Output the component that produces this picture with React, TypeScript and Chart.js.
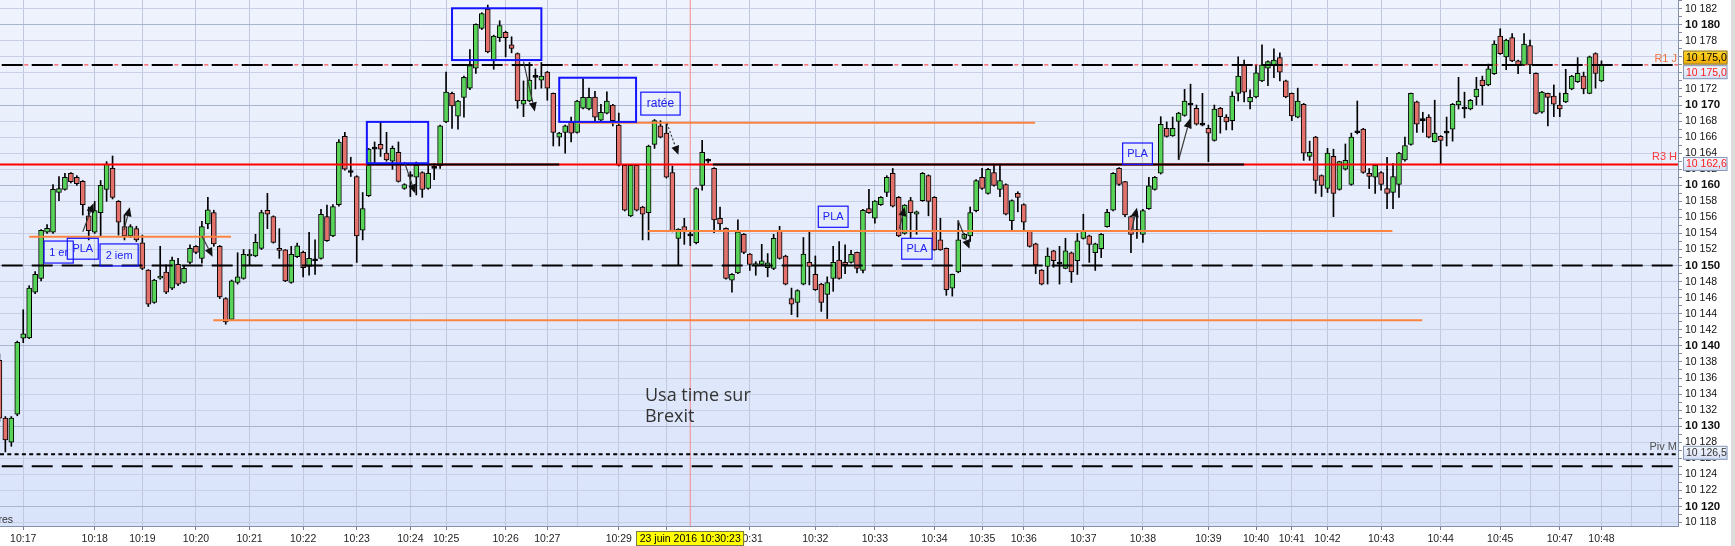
import { useEffect, useRef } from 'react';
import { Chart, registerables } from 'chart.js';

Chart.register(...registerables);

const FONT = '"Liberation Sans", Arial, sans-serif';

// ---- candle data (one candle per tick bar) ----
const openP = [
  10138.2, 10131.0, 10128.0, 10131.5, 10140.95, 10141.0, 10146.7, 10148.4, 10154.15, 10154.15,
  10159.1, 10159.5, 10161.5, 10161.0, 10160.5, 10156.2, 10154.15, 10156.6, 10159.5, 10162.1,
  10158.0, 10154.85, 10153.7, 10154.6, 10152.85, 10149.45, 10145.4, 10148.45, 10149.2, 10147.2,
  10150.15, 10147.9, 10150.4, 10152.4, 10150.9, 10155.2, 10156.6, 10152.4, 10145.9, 10143.3,
  10147.9, 10148.4, 10151.2, 10151.2, 10152.15, 10156.9, 10156.1, 10152.15, 10151.95, 10147.9,
  10151.1, 10151.65, 10149.9, 10150.6, 10150.9, 10156.1, 10153.7, 10157.6, 10166.1, 10161.6,
  10161.1, 10154.4, 10158.7, 10164.5, 10165.1, 10164.0, 10163.0, 10164.1, 10159.6, 10161.1,
  10161.0, 10161.6, 10159.6, 10162.1, 10162.45, 10167.9, 10171.45, 10168.6, 10170.95, 10172.1,
  10174.6, 10179.55, 10181.95, 10175.5, 10178.4, 10179.05, 10177.5, 10176.4, 10170.1, 10170.5,
  10173.45, 10173.1, 10174.1, 10171.45, 10166.0, 10166.6, 10167.85, 10166.6, 10169.6, 10169.5,
  10171.0, 10168.1, 10169.0, 10170.0, 10167.5, 10162.5, 10156.2, 10162.5, 10157.3, 10156.6,
  10165.1, 10167.4, 10166.5, 10161.6, 10153.4, 10154.85, 10153.7, 10152.85, 10160.0, 10163.0,
  10162.1, 10155.9, 10154.65, 10148.2, 10149.1, 10153.9, 10151.45, 10150.0, 10150.15, 10149.75,
  10149.65, 10154.3, 10151.2, 10145.9, 10145.4, 10147.7, 10150.4, 10148.9, 10147.7, 10146.4,
  10148.4, 10150.7, 10150.4, 10150.4, 10151.65, 10149.4, 10157.1, 10155.9, 10157.6, 10159.1,
  10161.5, 10158.5, 10154.0, 10158.1, 10156.4, 10158.1, 10161.2, 10158.5, 10153.2, 10152.15,
  10147.2, 10149.2, 10153.4, 10153.7, 10156.85, 10161.0, 10159.0, 10161.6, 10159.5, 10160.1,
  10155.6, 10159.0, 10157.6, 10154.3, 10152.7, 10149.45, 10149.9, 10151.85, 10150.2, 10149.65,
  10151.6, 10150.6, 10153.4, 10153.7, 10151.6, 10152.1, 10154.85, 10156.9, 10162.1, 10160.45,
  10156.1, 10154.2, 10153.9, 10157.1, 10159.5, 10161.5, 10167.1, 10166.15, 10167.95, 10168.7,
  10170.0, 10169.6, 10167.5, 10167.1, 10165.6, 10169.6, 10168.5, 10168.05, 10171.45, 10175.0,
  10170.4, 10171.0, 10173.0, 10174.6, 10175.0, 10175.9, 10173.0, 10171.45, 10168.5, 10170.1,
  10163.6, 10166.0, 10161.2, 10159.6, 10163.6, 10159.5, 10162.0, 10160.1, 10166.55, 10167.0,
  10161.5, 10161.0, 10161.6, 10159.6, 10159.1, 10160.1, 10163.15, 10165.1, 10170.4, 10168.05,
  10168.5, 10165.45, 10166.1, 10166.5, 10167.0, 10170.0, 10169.5, 10169.5, 10171.0, 10173.1,
  10172.5, 10173.9, 10178.6, 10176.0, 10178.4, 10175.5, 10175.0, 10177.4, 10173.95, 10169.1,
  10171.45, 10171.1, 10170.0, 10170.4, 10172.0, 10172.9, 10173.6, 10171.45, 10176.4, 10173.0,
];
const highP = [
  10139.0, 10131.2, 10131.2, 10140.6, 10144.5, 10147.5, 10149.25, 10154.5, 10155.1, 10160.1,
  10161.1, 10161.5, 10161.6, 10161.2, 10160.6, 10157.3, 10158.0, 10160.6, 10162.95, 10163.65,
  10158.1, 10156.3, 10155.1, 10154.9, 10153.8, 10149.5, 10148.3, 10152.4, 10150.1, 10151.05,
  10150.9, 10150.0, 10152.6, 10152.5, 10155.5, 10158.5, 10156.9, 10152.5, 10146.0, 10148.2,
  10151.6, 10152.0, 10152.0, 10153.9, 10156.9, 10159.0, 10156.2, 10154.6, 10152.0, 10152.4,
  10152.8, 10151.8, 10154.15, 10153.2, 10157.0, 10157.55, 10157.6, 10165.7, 10166.6, 10163.5,
  10161.2, 10159.1, 10164.6, 10165.4, 10167.85, 10166.6, 10164.9, 10165.4, 10160.2, 10161.7,
  10162.9, 10161.7, 10162.7, 10162.7, 10167.5, 10174.1, 10171.6, 10170.6, 10173.6, 10176.9,
  10180.1, 10181.5, 10182.45, 10178.7, 10180.5, 10179.2, 10178.5, 10176.5, 10173.0, 10175.3,
  10174.5, 10175.3, 10174.2, 10171.5, 10166.6, 10167.5, 10168.5, 10170.6, 10173.25, 10172.1,
  10171.7, 10170.1, 10171.65, 10170.1, 10169.0, 10162.6, 10162.6, 10162.6, 10157.4, 10165.0,
  10168.2, 10168.05, 10167.7, 10162.4, 10154.6, 10155.9, 10154.4, 10159.7, 10165.6, 10163.3,
  10162.2, 10157.3, 10154.7, 10149.0, 10155.7, 10154.0, 10151.5, 10150.5, 10152.65, 10151.5,
  10153.9, 10154.9, 10151.3, 10147.2, 10147.0, 10153.5, 10154.2, 10151.2, 10147.8, 10148.6,
  10152.4, 10153.0, 10152.6, 10151.9, 10151.7, 10157.0, 10159.5, 10158.1, 10158.6, 10161.2,
  10162.1, 10158.6, 10157.6, 10158.5, 10156.8, 10161.6, 10161.3, 10158.6, 10155.9, 10152.2,
  10148.95, 10155.6, 10154.0, 10157.3, 10160.7, 10162.1, 10162.1, 10162.5, 10162.5, 10160.2,
  10158.2, 10159.2, 10157.7, 10154.4, 10152.8, 10149.5, 10152.2, 10151.9, 10152.4, 10153.4,
  10151.7, 10154.0, 10156.4, 10153.8, 10152.8, 10154.0, 10157.0, 10161.6, 10162.2, 10160.5,
  10156.2, 10156.7, 10157.0, 10161.0, 10161.1, 10168.55, 10167.9, 10168.5, 10169.1, 10171.95,
  10172.6, 10170.0, 10171.45, 10167.5, 10170.0, 10169.7, 10168.8, 10171.66, 10176.0, 10175.6,
  10171.9, 10175.0, 10177.5, 10175.5, 10177.0, 10176.5, 10173.1, 10171.5, 10172.1, 10170.2,
  10165.5, 10166.1, 10161.3, 10164.6, 10164.5, 10163.0, 10165.15, 10166.5, 10170.5, 10167.1,
  10162.1, 10162.6, 10161.7, 10163.5, 10162.7, 10164.1, 10166.0, 10171.5, 10170.5, 10169.1,
  10168.8, 10170.6, 10166.2, 10168.5, 10170.2, 10173.45, 10171.6, 10170.7, 10173.45, 10173.6,
  10175.1, 10178.0, 10179.5, 10178.2, 10178.9, 10175.6, 10178.9, 10178.1, 10174.0, 10171.7,
  10171.5, 10172.5, 10171.5, 10174.45, 10173.7, 10175.9, 10174.1, 10176.1, 10176.5, 10175.5,
];
const lowP = [
  10130.6, 10126.8, 10127.5, 10131.3, 10140.4, 10140.9, 10146.5, 10148.1, 10154.0, 10154.0,
  10158.1, 10159.4, 10160.3, 10160.0, 10156.3, 10153.2, 10154.0, 10153.7, 10158.0, 10158.3,
  10153.8, 10153.2, 10153.5, 10153.0, 10149.5, 10144.9, 10145.3, 10148.3, 10146.5, 10147.0,
  10147.5, 10147.8, 10150.2, 10151.5, 10150.3, 10154.6, 10152.4, 10145.9, 10142.7, 10143.2,
  10147.7, 10148.3, 10150.0, 10151.1, 10152.0, 10154.6, 10152.8, 10150.9, 10148.0, 10147.8,
  10151.0, 10148.6, 10148.8, 10148.9, 10150.8, 10153.0, 10153.6, 10157.4, 10161.9, 10161.1,
  10150.4, 10153.2, 10158.6, 10162.7, 10163.6, 10163.0, 10162.0, 10160.4, 10159.5, 10158.6,
  10158.8, 10158.5, 10159.5, 10160.7, 10162.1, 10167.8, 10167.1, 10167.0, 10168.5, 10171.9,
  10173.95, 10179.4, 10176.5, 10174.45, 10177.9, 10176.0, 10176.5, 10169.6, 10168.55, 10170.4,
  10172.0, 10172.1, 10170.6, 10164.9, 10164.9, 10164.0, 10165.4, 10166.5, 10169.5, 10169.4,
  10167.9, 10168.0, 10168.9, 10167.4, 10162.4, 10156.8, 10156.1, 10156.8, 10153.2, 10153.2,
  10164.6, 10165.9, 10160.9, 10154.2, 10150.0, 10152.65, 10152.5, 10152.7, 10159.4, 10162.8,
  10154.1, 10154.4, 10148.3, 10146.7, 10149.0, 10151.5, 10149.4, 10148.8, 10150.1, 10148.6,
  10149.5, 10150.8, 10147.6, 10143.9, 10143.6, 10147.6, 10147.6, 10146.9, 10144.3, 10143.4,
  10146.8, 10148.3, 10149.0, 10150.3, 10149.1, 10149.1, 10156.5, 10155.3, 10157.5, 10158.6,
  10157.3, 10153.6, 10153.9, 10153.5, 10153.9, 10158.0, 10156.2, 10151.9, 10151.9, 10146.3,
  10146.2, 10149.1, 10153.3, 10153.0, 10156.7, 10159.5, 10158.9, 10159.9, 10158.6, 10156.3,
  10154.4, 10156.7, 10154.4, 10152.3, 10149.0, 10147.6, 10147.7, 10149.8, 10147.7, 10149.6,
  10147.9, 10148.9, 10153.3, 10150.4, 10149.4, 10151.0, 10154.8, 10156.8, 10160.0, 10156.1,
  10151.6, 10153.4, 10152.9, 10157.0, 10159.4, 10161.4, 10166.0, 10166.1, 10163.2, 10168.6,
  10167.1, 10167.5, 10167.4, 10162.95, 10165.5, 10166.5, 10166.9, 10166.9, 10170.5, 10170.4,
  10169.5, 10170.9, 10172.9, 10172.4, 10173.4, 10173.0, 10170.9, 10168.05, 10168.4, 10163.1,
  10163.1, 10159.0, 10158.6, 10159.1, 10156.1, 10159.4, 10161.9, 10160.0, 10166.4, 10161.5,
  10159.6, 10159.0, 10159.4, 10157.1, 10157.1, 10158.5, 10163.0, 10165.0, 10166.6, 10166.6,
  10165.9, 10165.4, 10162.7, 10164.9, 10165.5, 10169.5, 10168.4, 10169.4, 10170.0, 10170.0,
  10172.4, 10173.8, 10176.3, 10174.4, 10175.4, 10173.9, 10174.9, 10173.9, 10168.9, 10169.0,
  10167.4, 10168.55, 10168.55, 10170.3, 10171.9, 10172.8, 10171.4, 10171.4, 10172.1, 10172.9,
];
const closeP = [
  10131.0, 10128.3, 10131.0, 10140.45, 10141.5, 10147.2, 10148.9, 10154.4, 10154.65, 10159.5,
  10159.6, 10161.0, 10160.45, 10160.2, 10157.6, 10154.35, 10156.85, 10160.0, 10162.66, 10158.5,
  10155.4, 10153.7, 10154.85, 10153.2, 10149.65, 10145.2, 10148.2, 10148.7, 10146.7, 10150.7,
  10147.7, 10149.65, 10152.15, 10151.65, 10154.85, 10156.95, 10152.7, 10146.1, 10143.0, 10148.1,
  10148.6, 10151.4, 10151.4, 10152.9, 10156.6, 10156.4, 10152.9, 10151.9, 10148.1, 10151.4,
  10152.45, 10149.75, 10150.9, 10150.6, 10156.4, 10153.1, 10157.35, 10165.4, 10162.0, 10161.6,
  10153.7, 10157.1, 10164.5, 10164.5, 10164.5, 10163.15, 10164.6, 10160.5, 10160.1, 10161.1,
  10162.5, 10159.5, 10161.5, 10162.1, 10167.4, 10171.6, 10169.9, 10170.5, 10173.45, 10174.9,
  10180.05, 10181.4, 10176.6, 10178.6, 10179.9, 10178.4, 10177.05, 10170.5, 10170.6, 10173.1,
  10173.45, 10173.6, 10172.1, 10166.6, 10166.5, 10167.4, 10166.5, 10170.5, 10170.95, 10170.95,
  10168.5, 10169.1, 10170.5, 10168.05, 10162.5, 10156.9, 10162.5, 10156.9, 10156.4, 10164.9,
  10168.05, 10166.0, 10161.0, 10154.3, 10154.55, 10154.2, 10153.7, 10159.6, 10164.1, 10163.0,
  10155.7, 10155.2, 10148.4, 10148.9, 10154.2, 10151.65, 10150.15, 10150.2, 10150.6, 10150.35,
  10153.4, 10150.9, 10147.7, 10145.2, 10146.9, 10151.45, 10149.9, 10147.0, 10145.4, 10147.9,
  10150.4, 10148.4, 10150.1, 10151.4, 10149.65, 10156.9, 10156.6, 10158.05, 10158.5, 10161.0,
  10157.4, 10153.7, 10157.55, 10156.6, 10156.7, 10161.5, 10158.0, 10151.95, 10151.95, 10147.0,
  10148.9, 10153.2, 10153.9, 10156.6, 10160.6, 10159.6, 10162.0, 10160.0, 10160.6, 10156.4,
  10158.1, 10158.5, 10155.4, 10152.4, 10150.1, 10147.7, 10151.2, 10150.6, 10150.2, 10151.85,
  10149.2, 10153.1, 10154.3, 10152.65, 10152.7, 10153.9, 10156.65, 10161.5, 10160.1, 10156.3,
  10153.9, 10154.5, 10156.85, 10159.95, 10161.0, 10167.6, 10166.1, 10167.1, 10169.0, 10170.5,
  10170.0, 10167.6, 10167.5, 10166.5, 10169.5, 10168.55, 10167.9, 10171.1, 10173.6, 10171.6,
  10170.95, 10174.0, 10175.0, 10175.4, 10175.6, 10174.1, 10171.0, 10168.65, 10170.5, 10164.0,
  10164.1, 10160.6, 10160.0, 10164.0, 10159.0, 10162.95, 10163.1, 10166.0, 10166.55, 10161.6,
  10161.1, 10162.5, 10160.1, 10159.0, 10161.1, 10164.0, 10164.95, 10171.45, 10167.6, 10168.05,
  10166.0, 10166.5, 10165.6, 10166.5, 10170.1, 10170.5, 10169.5, 10170.6, 10172.0, 10172.4,
  10174.5, 10177.6, 10176.4, 10178.1, 10175.5, 10175.0, 10177.6, 10175.0, 10168.95, 10171.6,
  10170.95, 10170.1, 10169.5, 10171.45, 10173.6, 10173.95, 10172.0, 10176.0, 10173.95, 10175.0,
];

// ---- time axis (tick positions in candle index units) ----
const timeTickIdx = [4, 16, 24, 33, 42, 51, 60, 69, 75, 85, 92, 97, 104, 112, 126, 137, 147, 157, 165, 172,
  182, 192, 203, 211, 217, 223, 232, 242, 252, 257, 262, 269, 274, 279];
const timeTickLabels = ['10:17', '10:18', '10:19', '10:20', '10:21', '10:22', '10:23', '10:24', '10:25', '10:26',
  '10:27', '', '10:29', '10:30', '10:31', '10:32', '10:33', '10:34', '10:35', '10:36',
  '10:37', '10:38', '10:39', '10:40', '10:41', '10:42', '10:43', '10:44', '10:45', '',
  '10:47', '10:48', '', ''];

const xMin = 0.1;
const xMax = 281.85;
const yMin = 10117.57;
const yMax = 10183.08;
const yTickFirst = 10118;
const yTickLast = 10183;

// ---- levels ----
const levelR1 = 10175.0;
const levelR3H = 10162.6;
const levelPivM = 10126.5;
const dashedLevels = [10175, 10150, 10125];
const blackSegments = [
  { y: 10162.6, from: 61.7, to: 94.0 },
  { y: 10162.6, from: 119.8, to: 209.0 },
];
const orangeSegments = [
  { y: 10153.6, from: 5.0, to: 38.9 },
  { y: 10143.2, from: 35.9, to: 238.9 },
  { y: 10167.8, from: 97.0, to: 173.9 },
  { y: 10154.3, from: 108.9, to: 233.9 },
];
const cursorIdx = 116;
const cursorLabel = '23 juin 2016 10:30:23';

const boxes = [
  { x1: 7.5, x2: 12.4, y1: 10153.06, y2: 10150.32, label: '1 er', thin: true },
  { x1: 11.4, x2: 16.6, y1: 10153.4, y2: 10150.8, label: 'PLA', thin: true },
  { x1: 16.9, x2: 23.3, y1: 10152.7, y2: 10149.95, label: '2 iem', thin: true },
  { x1: 61.7, x2: 72.0, y1: 10167.9, y2: 10162.75, label: '', thin: false },
  { x1: 76.0, x2: 91.0, y1: 10182.05, y2: 10175.6, label: '', thin: false },
  { x1: 94.0, x2: 106.9, y1: 10173.4, y2: 10167.9, label: '', thin: false },
  { x1: 107.7, x2: 114.3, y1: 10171.6, y2: 10168.75, label: 'ratée', thin: true },
  { x1: 137.5, x2: 142.5, y1: 10157.4, y2: 10154.77, label: 'PLA', thin: true },
  { x1: 151.5, x2: 156.6, y1: 10153.4, y2: 10150.8, label: 'PLA', thin: true },
  { x1: 188.6, x2: 193.6, y1: 10165.27, y2: 10162.6, label: 'PLA', thin: true },
];

const arrows = [
  { x1: 14.0, y1: 10154.2, x2: 15.8, y2: 10157.76, dashed: false },
  { x1: 20.9, y1: 10154.4, x2: 21.9, y2: 10157.26, dashed: false },
  { x1: 34.0, y1: 10153.7, x2: 35.8, y2: 10151.1, dashed: false },
  { x1: 68.0, y1: 10162.9, x2: 69.8, y2: 10159.0, dashed: false },
  { x1: 88.0, y1: 10175.4, x2: 89.9, y2: 10169.2, dashed: false },
  { x1: 112.1, y1: 10167.7, x2: 114.0, y2: 10163.8, dashed: true },
  { x1: 151.1, y1: 10154.6, x2: 152.0, y2: 10157.3, dashed: false },
  { x1: 161.0, y1: 10155.55, x2: 162.9, y2: 10152.1, dashed: false },
  { x1: 190.1, y1: 10154.4, x2: 191.0, y2: 10157.2, dashed: false },
  { x1: 198.0, y1: 10163.15, x2: 199.9, y2: 10168.3, dashed: false },
];

const notes = [
  { x: 108.4, y: 10133.75, text: 'Usa time sur' },
  { x: 108.4, y: 10131.1, text: 'Brexit' },
];

const priceTags = [
  { y: levelR1, text: '10 175,0', kind: 'gold', shift: -7.3 },
  { y: levelR1, text: '10 175,0', kind: 'red', shift: 7.3 },
  { y: levelR3H, text: '10 162,6', kind: 'red', shift: -0.5 },
  { y: levelPivM, text: '10 126,5', kind: 'dark', shift: -1.5 },
];
const levelLabels = [
  { y: levelR1, text: 'R1 J', color: '#f0703c', shift: -6 },
  { y: levelR3H, text: 'R3 H', color: '#ff3a3a', shift: -7 },
  { y: levelPivM, text: 'Piv M', color: '#505050', shift: -7 },
];

const fmtPrice = (v: number) => `${Math.floor(v / 1000)} ${String(Math.round(v % 1000)).padStart(3, '0')}`;

const hLine = (y: number, from: number, to: number, color: string, width: number, dash: number[], offset: number, order: number) => ({
  type: 'line' as const,
  data: [{ x: from, y }, { x: to, y }],
  borderColor: color,
  borderWidth: width,
  borderDash: dash,
  borderDashOffset: offset,
  borderCapStyle: 'butt' as const,
  pointRadius: 0,
  pointHoverRadius: 0,
  fill: false,
  tension: 0,
  order,
});

const decorPlugin = {
  id: 'decor',
  beforeDraw(chart: any) {
    const { ctx, chartArea: a } = chart;
    ctx.save();
    const g = ctx.createLinearGradient(0, a.top, 0, a.bottom);
    g.addColorStop(0, '#eff3fd');
    g.addColorStop(1, '#d9e3fa');
    ctx.fillStyle = g;
    ctx.fillRect(a.left, a.top, a.right - a.left, a.bottom - a.top);
    ctx.restore();
  },
  afterDatasetsDraw(chart: any) {
    const { ctx, chartArea: a } = chart;
    const xs = chart.scales.x;
    const ys = chart.scales.y;
    ctx.save();
    ctx.beginPath();
    ctx.rect(a.left, a.top, a.right - a.left, a.bottom - a.top);
    ctx.clip();

    // arrows
    for (const ar of arrows) {
      const x1 = xs.getPixelForValue(ar.x1), y1 = ys.getPixelForValue(ar.y1);
      const x2 = xs.getPixelForValue(ar.x2), y2 = ys.getPixelForValue(ar.y2);
      const ang = Math.atan2(y2 - y1, x2 - x1);
      const L = 9, W = 4;
      const bx = x2 - L * Math.cos(ang), by = y2 - L * Math.sin(ang);
      ctx.strokeStyle = '#3a3a3a';
      ctx.lineWidth = 1.2;
      ctx.setLineDash(ar.dashed ? [2, 2] : []);
      ctx.beginPath();
      ctx.moveTo(x1, y1);
      ctx.lineTo(bx, by);
      ctx.stroke();
      ctx.setLineDash([]);
      ctx.fillStyle = '#111';
      ctx.beginPath();
      ctx.moveTo(x2, y2);
      ctx.lineTo(bx + W * Math.sin(ang), by - W * Math.cos(ang));
      ctx.lineTo(bx - W * Math.sin(ang), by + W * Math.cos(ang));
      ctx.closePath();
      ctx.fill();
    }

    // boxes
    for (const b of boxes) {
      const x1 = xs.getPixelForValue(b.x1), x2 = xs.getPixelForValue(b.x2);
      const y1 = ys.getPixelForValue(b.y1), y2 = ys.getPixelForValue(b.y2);
      ctx.strokeStyle = '#1414ff';
      ctx.lineWidth = b.thin ? 1.2 : 2;
      ctx.strokeRect(x1, y1, x2 - x1, y2 - y1);
      if (b.label) {
        ctx.fillStyle = '#2020f0';
        ctx.font = `${b.label === 'ratée' ? 12 : 11}px ${FONT}`;
        ctx.textAlign = 'center';
        ctx.textBaseline = 'middle';
        ctx.fillText(b.label, (x1 + x2) / 2, (y1 + y2) / 2 + 0.5);
      }
    }

    // notes
    ctx.fillStyle = '#333';
    ctx.font = `18px "Open Sans", ${FONT}`;
    ctx.textAlign = 'left';
    ctx.textBaseline = 'middle';
    for (const n of notes) {
      ctx.fillText(n.text, xs.getPixelForValue(n.x), ys.getPixelForValue(n.y));
    }
    ctx.restore();
  },
  afterDraw(chart: any) {
    const { ctx, chartArea: a } = chart;
    const xs = chart.scales.x;
    const ys = chart.scales.y;
    ctx.save();

    // level labels at the right edge of the plot
    ctx.font = `11px ${FONT}`;
    ctx.textAlign = 'right';
    ctx.textBaseline = 'middle';
    for (const l of levelLabels) {
      ctx.fillStyle = l.color;
      ctx.fillText(l.text, a.right - 1, ys.getPixelForValue(l.y) + l.shift);
    }

    // price tags on the axis
    for (const t of priceTags) {
      const yc = ys.getPixelForValue(t.y) + t.shift;
      const left = a.right + 5, w = 44.5, h = 14, top = yc - h / 2;
      const g = ctx.createLinearGradient(0, top, 0, top + h);
      if (t.kind === 'gold') {
        g.addColorStop(0, '#ffd92a');
        g.addColorStop(1, '#eea800');
      } else {
        g.addColorStop(0, '#f6f8fe');
        g.addColorStop(1, '#d3ddf3');
      }
      ctx.fillStyle = g;
      ctx.fillRect(left, top, w, h);
      ctx.strokeStyle = t.kind === 'gold' ? '#8a7a50' : '#8596b8';
      ctx.lineWidth = 1;
      ctx.strokeRect(left + 0.5, top + 0.5, w - 1, h - 1);
      ctx.fillStyle = t.kind === 'gold' ? '#000' : t.kind === 'red' ? '#ff1a1a' : '#333';
      ctx.font = `10.5px ${FONT}`;
      ctx.textAlign = 'left';
      ctx.textBaseline = 'middle';
      ctx.fillText(t.text, left + 3, yc + 0.5);
    }

    // cursor date box
    const cx = xs.getPixelForValue(cursorIdx);
    const bw = 108, bh = 15, bt = a.bottom + 5;
    ctx.fillStyle = '#ffff00';
    ctx.fillRect(cx - bw / 2, bt, bw, bh);
    ctx.strokeStyle = '#7a7a50';
    ctx.lineWidth = 1;
    ctx.strokeRect(Math.round(cx - bw / 2) + 0.5, bt + 0.5, bw - 1, bh - 1);
    ctx.fillStyle = '#000';
    ctx.font = `10.5px ${FONT}`;
    ctx.textAlign = 'center';
    ctx.textBaseline = 'middle';
    ctx.fillText(cursorLabel, cx, bt + bh / 2 + 0.5);

    // cut-off legend text at bottom-left
    ctx.fillStyle = '#333';
    ctx.font = `10.5px ${FONT}`;
    ctx.textAlign = 'right';
    ctx.textBaseline = 'middle';
    ctx.fillText('Heures', 13, a.bottom - 6);

    // right frame strip
    ctx.fillStyle = '#dcdcdc';
    ctx.fillRect(chart.width - 4, 0, 4, chart.height);
    ctx.restore();
  },
};

export default function App() {
  const ref = useRef<HTMLCanvasElement>(null);

  useEffect(() => {
    document.body.style.margin = '0';
    const canvas = ref.current;
    if (!canvas) return;

    const bodyColors = openP.map((o, i) => (o === closeP[i] ? '#000000' : closeP[i] > o ? '#58d458' : '#e3726d'));

    const datasets: any[] = [
      {
        type: 'bar',
        label: 'body',
        data: openP.map((o, i) => ({ x: i, y: [o, closeP[i]] })),
        backgroundColor: bodyColors,
        borderColor: '#000',
        borderWidth: 1,
        borderSkipped: false,
        barThickness: 5,
        minBarLength: 2,
        grouped: false,
        order: 99,
      },
      {
        type: 'bar',
        label: 'wick',
        data: lowP.map((l, i) => ({ x: i, y: [l, highP[i]] })),
        backgroundColor: '#000',
        borderWidth: 0,
        barThickness: 1,
        grouped: false,
        order: 100,
      },
      {
        type: 'line',
        data: [{ x: cursorIdx, y: yMin }, { x: cursorIdx, y: yMax }],
        borderColor: '#f38a8a',
        borderWidth: 1,
        pointRadius: 0,
        fill: false,
        order: 101,
      },
      hLine(levelR1, xMin, xMax, '#ff2a2a', 1, [4, 26], 5.7, 20),
      hLine(levelR3H, xMin, xMax, '#ff0000', 2, [], 0, 19),
      ...orangeSegments.map((s) => hLine(s.y, s.from, s.to, '#fb8540', 2, [], 0, 18)),
      ...dashedLevels.map((v) => hLine(v, xMin, xMax, '#000000', 2, [21, 9], 28.3, 17)),
      hLine(levelPivM, xMin, xMax, '#000000', 2, [4, 3.3], 0, 17),
      ...blackSegments.map((s) => hLine(s.y, s.from, s.to, '#000000', 2, [], 0, 16)),
    ];

    Chart.defaults.font.family = FONT;

    const chart = new Chart(canvas, {
      type: 'bar',
      data: { datasets },
      plugins: [decorPlugin],
      options: {
        responsive: false,
        maintainAspectRatio: false,
        animation: false,
        events: [],
        layout: { padding: 0 },
        plugins: { legend: { display: false }, tooltip: { enabled: false }, title: { display: false } },
        scales: {
          x: {
            type: 'linear',
            min: xMin,
            max: xMax,
            offset: false,
            afterBuildTicks: (s: any) => {
              s.ticks = timeTickIdx.map((v) => ({ value: v }));
            },
            afterFit: (s: any) => {
              s.height = 20;
              s.paddingLeft = 0;
              s.paddingRight = 0;
            },
            ticks: {
              autoSkip: false,
              maxRotation: 0,
              minRotation: 0,
              padding: 3,
              color: '#1e1e1e',
              font: { size: 10.5, family: FONT },
              callback: (_v: any, i: number) => timeTickLabels[i],
            },
            grid: {
              offset: false,
              color: '#bfc8dd',
              lineWidth: 1,
              drawTicks: true,
              tickLength: 4,
              tickColor: (c: any) => (timeTickLabels[c.index] ? '#6f7c96' : 'rgba(0,0,0,0)'),
            },
            border: { display: true, color: '#8391ad', width: 1 },
          },
          y: {
            type: 'linear',
            position: 'right',
            min: yMin,
            max: yMax,
            afterBuildTicks: (s: any) => {
              const t: any[] = [];
              for (let v = yTickFirst; v <= yTickLast; v++) t.push({ value: v });
              s.ticks = t;
            },
            afterFit: (s: any) => {
              s.width = 57;
              s.paddingTop = 0;
              s.paddingBottom = 0;
            },
            ticks: {
              autoSkip: false,
              padding: 3,
              color: '#111',
              font: (c: any) => {
                const major = c.tick && c.tick.value % 10 === 0;
                return { family: FONT, size: major ? 11.5 : 10.5, weight: major ? 'bold' : 'normal' };
              },
              callback: (v: any) => (Number(v) % 2 === 0 ? fmtPrice(Number(v)) : ''),
            },
            grid: {
              color: (c: any) => {
                const v = c.tick ? c.tick.value : NaN;
                if (v % 10 === 0) return '#a9b5cf';
                if (v % 2 === 0) return '#c7d0e6';
                return 'rgba(0,0,0,0)';
              },
              lineWidth: 1,
              drawTicks: true,
              tickLength: 4,
              tickColor: '#7f8ba5',
            },
            border: { display: true, color: '#8391ad', width: 1 },
          },
        },
      } as any,
    });

    return () => chart.destroy();
  }, []);

  return (
    <div style={{ position: 'absolute', left: 0, top: 0, width: 1735, height: 546, background: '#ffffff' }}>
      <canvas ref={ref} width={1735} height={546} style={{ display: 'block', width: '1735px', height: '546px' }} />
    </div>
  );
}
